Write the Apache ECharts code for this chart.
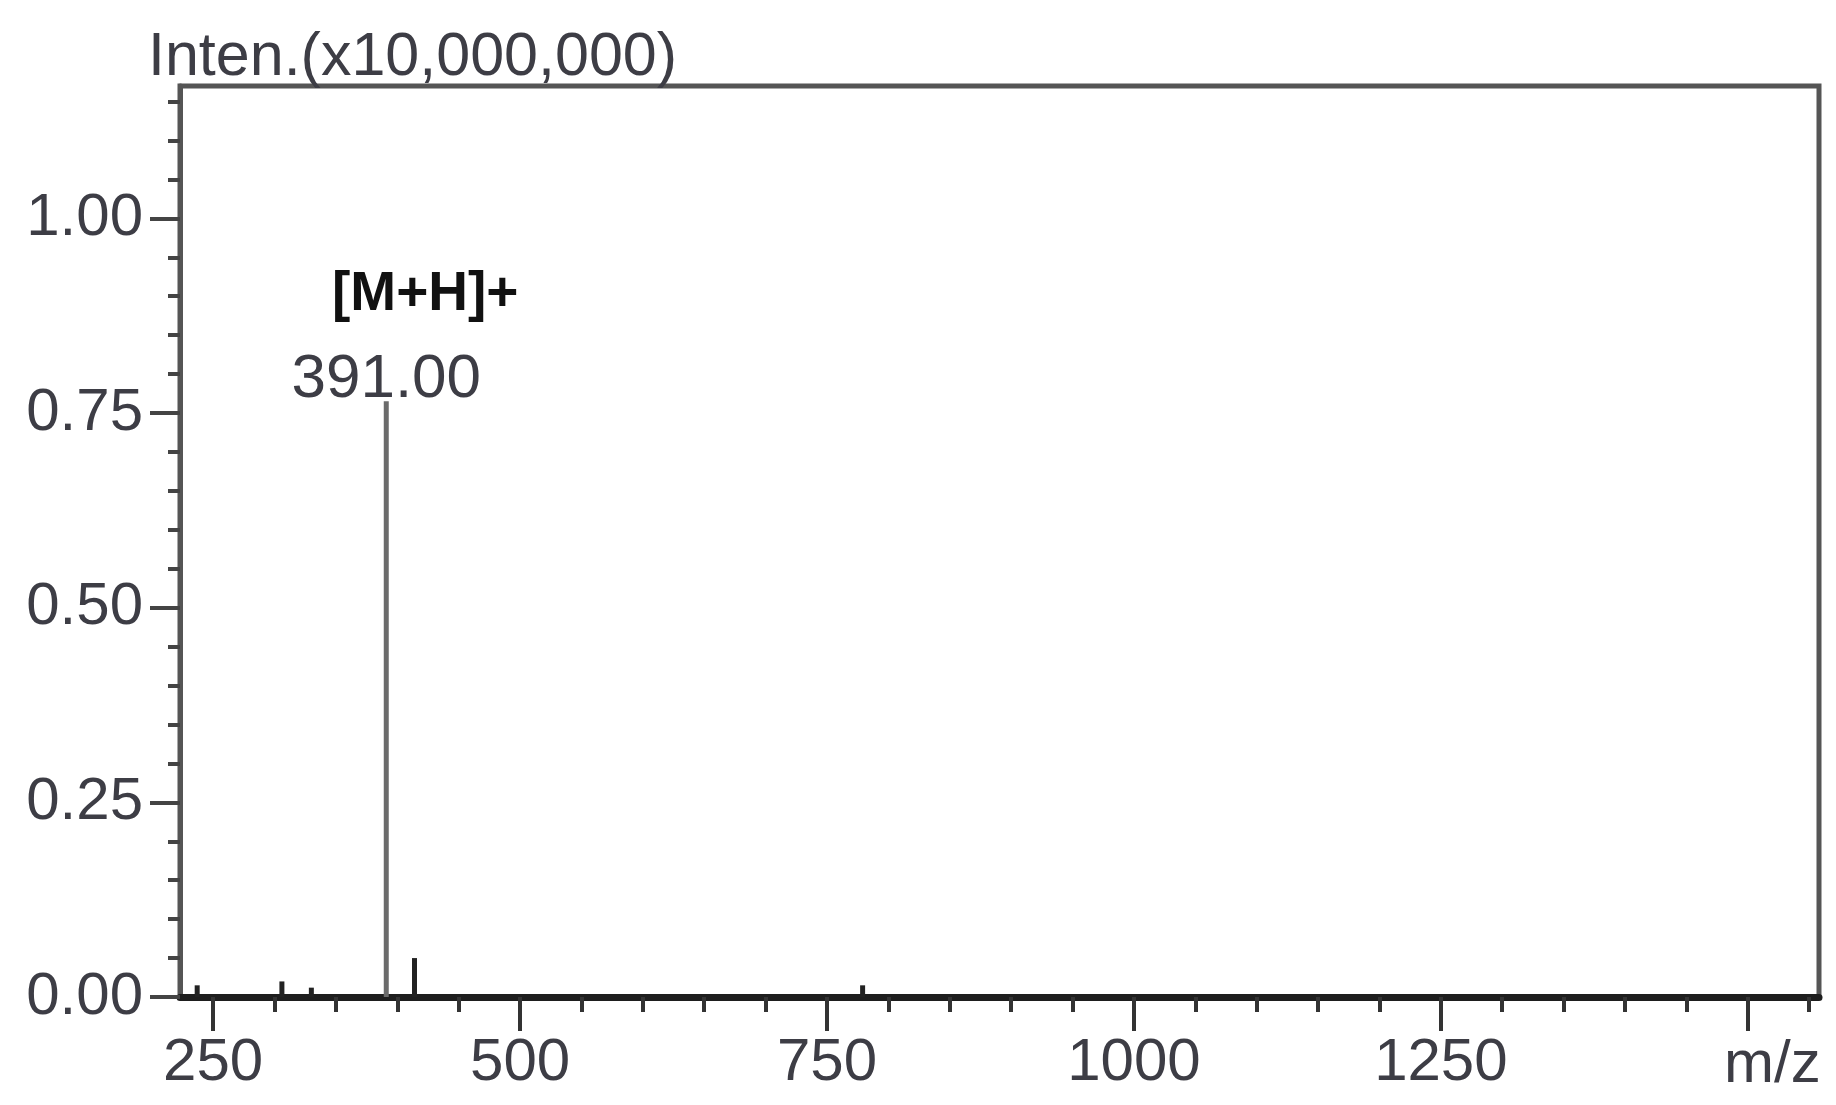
<!DOCTYPE html>
<html><head><meta charset="utf-8">
<script src="https://cdn.jsdelivr.net/npm/echarts@6/dist/echarts.min.js"></script>
<style>html,body{margin:0;padding:0;background:#fff}#c{width:1836px;height:1105px}</style>
</head><body><div id="c"></div>
<script>
// ---- data ----
const mz = [237, 306, 330, 391, 414, 779];
const intensity = [0.015, 0.02, 0.012, 0.765, 0.05, 0.015];
const peakLabelMz = 391;
const peakTag = '[M+H]+';
const peakText = '391.00';
const xMajorTicks = [250, 500, 750, 1000, 1250, 1500];
const xLabelValues = [250, 500, 750, 1000, 1250];
const xMinorTicks = [250, 300, 350, 400, 450, 500, 550, 600, 650, 700, 750, 800, 850, 900, 950, 1000, 1050, 1100, 1150, 1200, 1250, 1300, 1350, 1400, 1450, 1500, 1550];
const yMajorTicks = [0, 0.25, 0.5, 0.75, 1.0];
const yMinorTicks = [0, 0.05, 0.1, 0.15, 0.2, 0.25, 0.3, 0.35, 0.4, 0.45, 0.5, 0.55, 0.6, 0.65, 0.7, 0.75, 0.8, 0.85, 0.9, 0.95, 1.0, 1.05, 1.1, 1.15];
const xName = 'm/z';
const yName = 'Inten.(x10,000,000)';

const SANS = "'Liberation Sans',Arial,sans-serif";
const TXT = '#3d3d45';
const X_MIN = 223, X_MAX = 1558, Y_MAX = 1.17;

const seriesData = mz.map((m, i) => {
  const item = { value: [m, intensity[i]] };
  if (m === peakLabelMz) {
    item.label = {
      show: true, position: 'top', distance: 0, offset: [0, 22],
      formatter: '{a|' + peakTag + '}\n{b|' + peakText + '}',
      rich: {
        a: { fontFamily: SANS, fontWeight: 'bold', fontSize: 55, color: '#111', lineHeight: 86, padding: [0, 0, 0, 78] },
        b: { fontFamily: SANS, fontSize: 62, color: TXT, lineHeight: 86 }
      }
    };
  }
  return item;
});

const chart = echarts.init(document.getElementById('c'), null, { renderer: 'canvas' });
chart.setOption({
  animation: false,
  backgroundColor: '#ffffff',
  title: {
    text: yName, left: 143, top: 23,
    textStyle: { fontFamily: SANS, fontSize: 61, fontWeight: 'normal', color: TXT }
  },
  grid: { left: 180, right: 17, top: 86, bottom: 108, show: true, borderColor: '#555', borderWidth: 5, containLabel: false },
  xAxis: [
    {
      type: 'value', position: 'bottom', min: X_MIN, max: X_MAX,
      axisLine: { show: true, lineStyle: { color: '#1e1e1e', width: 7 } },
      axisTick: { show: true, customValues: xMinorTicks, length: 15, lineStyle: { color: '#333', width: 4 } },
      axisLabel: { show: false },
      splitLine: { show: false }
    },
    {
      type: 'value', position: 'bottom', min: X_MIN, max: X_MAX,
      axisLine: { show: false },
      axisTick: { show: true, customValues: xMajorTicks, length: 34, lineStyle: { color: '#333', width: 4 } },
      axisLabel: { show: true, customValues: xLabelValues, margin: 36, fontFamily: SANS, fontSize: 60, color: TXT,
        formatter: v => String(v) },
      splitLine: { show: false },
      name: xName, nameLocation: 'end', nameGap: -95,
      nameTextStyle: { fontFamily: SANS, fontSize: 60, color: TXT, align: 'left', verticalAlign: 'top', padding: [38, 0, 0, 0] }
    }
  ],
  yAxis: [
    {
      type: 'value', position: 'left', min: 0, max: Y_MAX,
      axisLine: { show: true, lineStyle: { color: '#555', width: 5 } },
      axisTick: { show: true, customValues: yMinorTicks, length: 12, lineStyle: { color: '#444', width: 4 } },
      axisLabel: { show: false },
      splitLine: { show: false }
    },
    {
      type: 'value', position: 'left', min: 0, max: Y_MAX,
      axisLine: { show: false },
      axisTick: { show: true, customValues: yMajorTicks, length: 30, lineStyle: { color: '#444', width: 4 } },
      axisLabel: { show: true, customValues: yMajorTicks, margin: 37, fontFamily: SANS, fontSize: 60, color: TXT,
        formatter: v => v.toFixed(2) },
      splitLine: { show: false }
    }
  ],
  series: [{
    type: 'bar', xAxisIndex: 0, yAxisIndex: 0, barWidth: 5,
    itemStyle: { color: p => (p.value[1] > 0.5 ? '#6b6b6b' : '#222') },
    data: seriesData
  }]
});
</script></body></html>
